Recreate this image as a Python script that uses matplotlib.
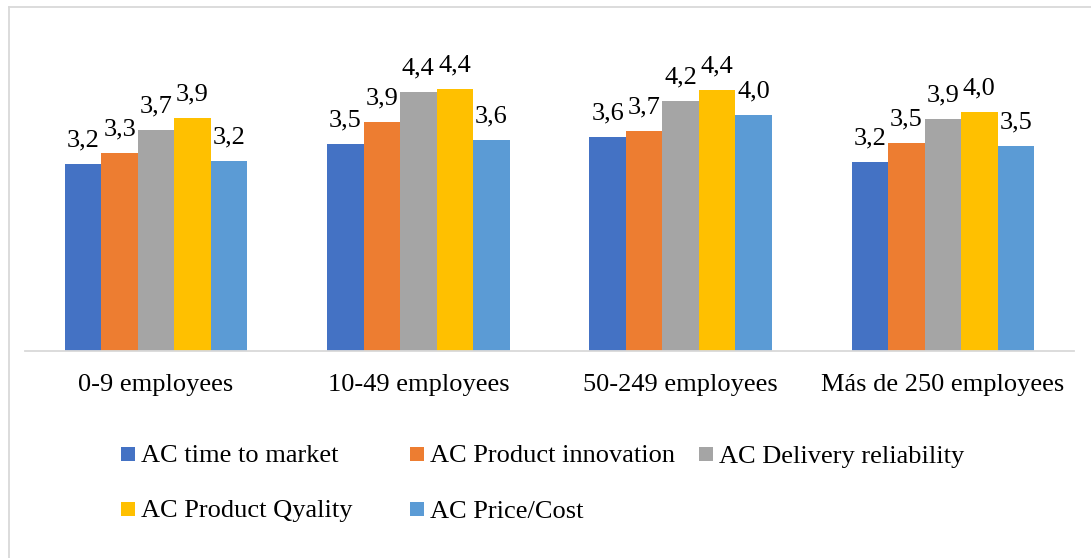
import numpy as np
import matplotlib
matplotlib.use('Agg')
from matplotlib import pyplot as plt
from matplotlib.patches import Rectangle
from matplotlib.lines import Line2D

plt.rcParams['font.family'] = ['Liberation Serif', 'DejaVu Serif']

# Data
categories = ['0-9 employees', '10-49 employees', '50-249 employees', 'Más de 250 employees']
series_names = ['AC time to market', 'AC Product innovation', 'AC Delivery reliability',
                'AC Product Qyality', 'AC Price/Cost']
time_to_market = [3.16, 3.49, 3.62, 3.20]
product_innovation = [3.34, 3.86, 3.72, 3.51]
delivery_reliability = [3.74, 4.38, 4.22, 3.91]
product_quality = [3.93, 4.42, 4.41, 4.04]
price_cost = [3.21, 3.56, 3.99, 3.46]
series_values = [time_to_market, product_innovation, delivery_reliability, product_quality, price_cost]
colors = ['#4472C4', '#ED7D31', '#A5A5A5', '#FFC000', '#5B9BD5']

W, H = 1091, 558
fig = plt.figure(figsize=(W / 100, H / 100), dpi=100)
ax = fig.add_axes([25 / W, (H - 351.3) / H, 1049 / W, 296.5 / H])

x = np.arange(len(categories))
width = 0.139
for i, (vals, col) in enumerate(zip(series_values, colors)):
    offs = (i - 2) * width
    bars = ax.bar(x + offs, vals, width=width, color=col, edgecolor='none')
    for b, v in zip(bars, vals):
        ax.annotate(f'{v:.1f}'.replace('.', ','), (b.get_x() + b.get_width() / 2, v),
                    xytext=(0, 9), textcoords='offset points',
                    ha='center', va='bottom', fontsize=19)

ax.set_xlim(-0.5, len(categories) - 0.5)
ax.set_ylim(0, 5)
ax.set_yticks([])
ax.set_xticks(x)
ax.set_xticklabels(categories, fontsize=19)
ax.tick_params(axis='x', length=0, pad=16)
for s in ['top', 'right', 'left']:
    ax.spines[s].set_visible(False)
ax.spines['bottom'].set_color('#D9D9D9')
ax.spines['bottom'].set_linewidth(1.3)

# chart border (only top and left edges show in the crop)
fig.add_artist(Line2D([8.5 / W, 8.5 / W], [0, 1 - 6.5 / H], transform=fig.transFigure,
                      color='#D9D9D9', lw=1.3))
fig.add_artist(Line2D([8.5 / W, 1], [1 - 6.5 / H, 1 - 6.5 / H], transform=fig.transFigure,
                      color='#D9D9D9', lw=1.3))

# legend laid out as in the reference: 3 equal columns, 2 rows
for i, (name, col) in enumerate(zip(series_names, colors)):
    cx = 121 + (i % 3) * 289
    cy = 454 + (i // 3) * 55
    fig.add_artist(Rectangle((cx / W, 1 - (cy + 7) / H), 14 / W, 14 / H,
                             transform=fig.transFigure, facecolor=col, edgecolor='none'))
    fig.text((cx + 20) / W, 1 - (cy + 8.5) / H, name, fontsize=19, va='baseline', ha='left')

fig.savefig('out.png', dpi=100)
